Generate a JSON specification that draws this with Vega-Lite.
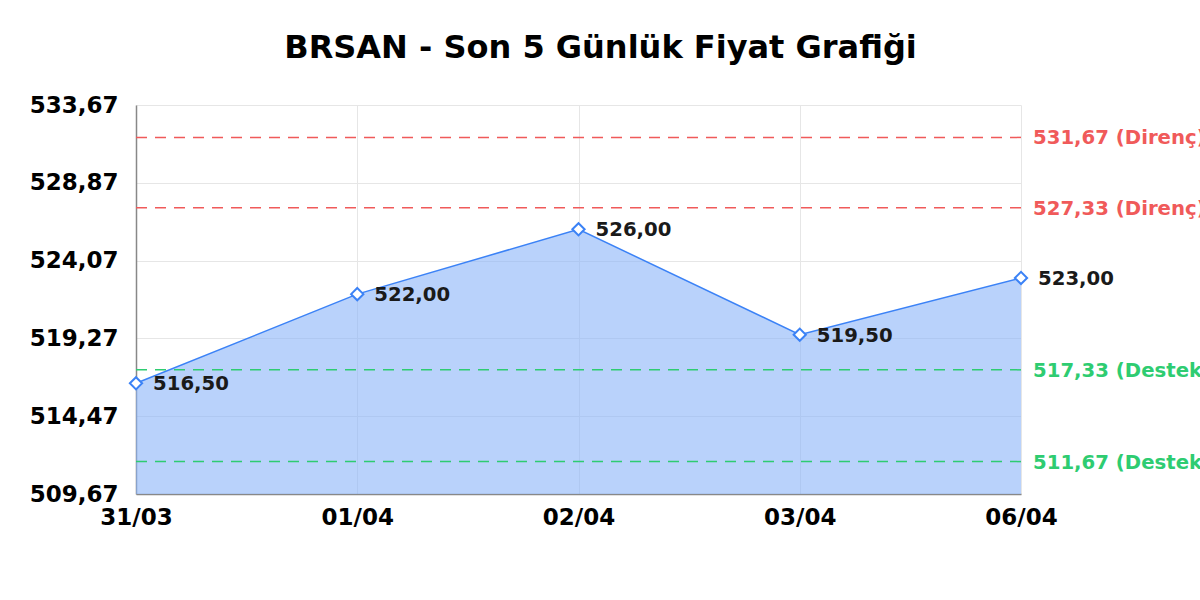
{
  "$schema": "https://vega.github.io/schema/vega-lite/v6.json",
  "autosize": {"type": "none"},
  "width": 885,
  "height": 389,
  "padding": {"left": 136, "top": 105, "right": 179, "bottom": 106},
  "background": "white",
  "title": {
    "text": "BRSAN - Son 5 Günlük Fiyat Grafiği",
    "font": "DejaVu Sans",
    "fontSize": 32,
    "fontWeight": "bold",
    "color": "#000000",
    "anchor": "middle",
    "dx": 22,
    "offset": 29
  },
  "config": {
    "locale": {"number": {"decimal": ",", "thousands": ".", "grouping": [3], "currency": ["", ""]}},
    "view": {"stroke": null},
    "font": "DejaVu Sans"
  },
  "datasets": {
    "prices": [
      {"date": "31/03", "price": 516.5},
      {"date": "01/04", "price": 522.0},
      {"date": "02/04", "price": 526.0},
      {"date": "03/04", "price": 519.5},
      {"date": "06/04", "price": 523.0}
    ],
    "levels": [
      {"level": 531.67, "label": "531,67 (Direnç)", "kind": "Direnç"},
      {"level": 527.33, "label": "527,33 (Direnç)", "kind": "Direnç"},
      {"level": 517.33, "label": "517,33 (Destek)", "kind": "Destek"},
      {"level": 511.67, "label": "511,67 (Destek)", "kind": "Destek"}
    ]
  },
  "encoding": {
    "x": {
      "field": "date",
      "type": "ordinal",
      "sort": null,
      "scale": {"type": "point", "padding": 0, "domain": ["31/03", "01/04", "02/04", "03/04", "06/04"]},
      "axis": {
        "title": null,
        "labelAngle": 0,
        "labelFont": "DejaVu Sans",
        "labelFontSize": 23,
        "labelFontWeight": "bold",
        "labelColor": "#000000",
        "labelPadding": 12,
        "ticks": false,
        "domainColor": "#888888",
        "domainWidth": 1.5,
        "grid": true,
        "gridColor": "#e6e6e6",
        "gridWidth": 1
      }
    },
    "y": {
      "field": "price",
      "type": "quantitative",
      "scale": {"domain": [509.67, 533.67], "nice": false, "zero": false},
      "axis": {
        "title": null,
        "values": [509.67, 514.47, 519.27, 524.07, 528.87, 533.67],
        "format": ".2f",
        "labelFont": "DejaVu Sans",
        "labelFontSize": 23,
        "labelFontWeight": "bold",
        "labelColor": "#000000",
        "labelPadding": 18,
        "ticks": false,
        "domainColor": "#888888",
        "domainWidth": 1.5,
        "grid": true,
        "gridColor": "#e6e6e6",
        "gridWidth": 1
      }
    }
  },
  "layer": [
    {
      "data": {"name": "prices"},
      "mark": {"type": "area", "color": "#8ab4f8", "opacity": 0.6, "line": false},
      "encoding": {"y2": {"datum": 509.67}}
    },
    {
      "data": {"name": "prices"},
      "mark": {"type": "line", "color": "#3b82f6", "strokeWidth": 1.5},
      "encoding": {}
    },
    {
      "data": {"name": "levels"},
      "mark": {"type": "rule", "strokeDash": [11, 8], "strokeWidth": 1.5},
      "encoding": {
        "x": null,
        "y": {"field": "level", "type": "quantitative"},
        "color": {
          "field": "kind",
          "type": "nominal",
          "scale": {"domain": ["Direnç", "Destek"], "range": ["#f05a5a", "#2ecc71"]},
          "legend": null
        }
      }
    },
    {
      "data": {"name": "levels"},
      "mark": {"type": "text", "align": "left", "baseline": "middle", "dx": 12, "dy": 1, "fontSize": 19.7, "fontWeight": "bold", "font": "DejaVu Sans"},
      "encoding": {
        "x": {"datum": "06/04"},
        "y": {"field": "level", "type": "quantitative"},
        "text": {"field": "label"},
        "color": {
          "field": "kind",
          "type": "nominal",
          "scale": {"domain": ["Direnç", "Destek"], "range": ["#f05a5a", "#2ecc71"]},
          "legend": null
        }
      }
    },
    {
      "data": {"name": "prices"},
      "mark": {"type": "point", "shape": "diamond", "filled": true, "fill": "white", "stroke": "#3b82f6", "strokeWidth": 2, "size": 150, "opacity": 1},
      "encoding": {}
    },
    {
      "data": {"name": "prices"},
      "mark": {"type": "text", "align": "left", "baseline": "middle", "dx": 17, "dy": 1, "fontSize": 19.7, "fontWeight": "bold", "font": "DejaVu Sans", "color": "#1a1a1a"},
      "encoding": {
        "text": {"field": "price", "type": "quantitative", "format": ".2f"}
      }
    }
  ]
}
